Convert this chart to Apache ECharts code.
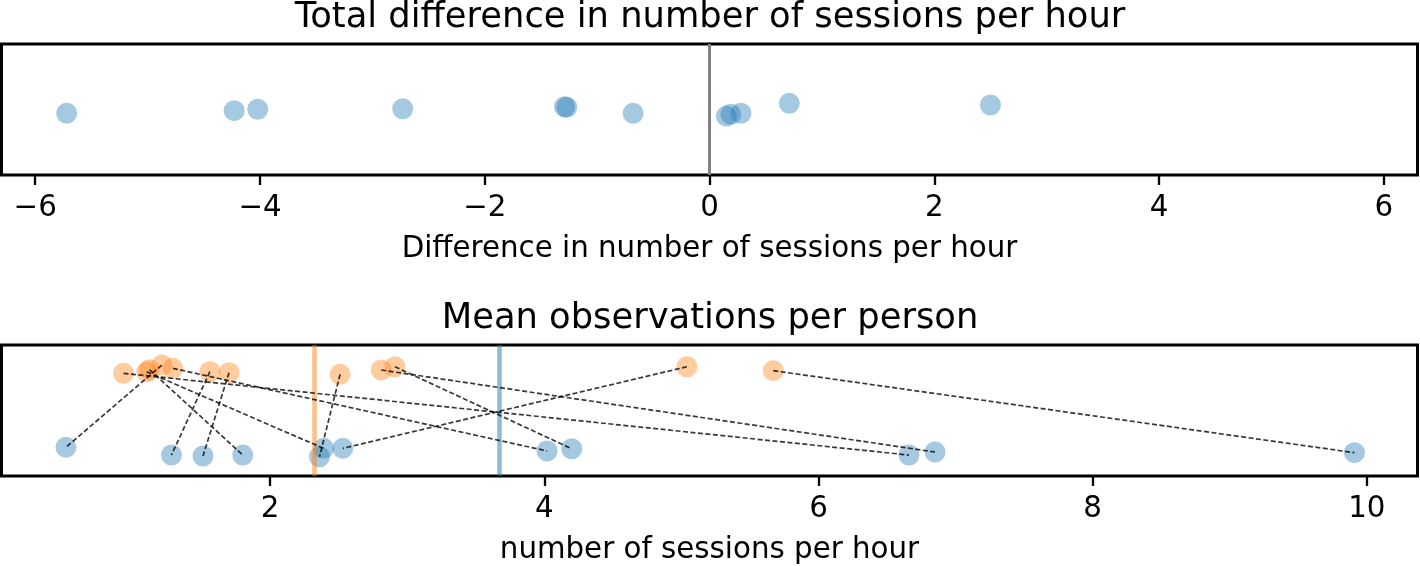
<!DOCTYPE html>
<html>
<head>
    <meta charset="utf-8">
    <title>Sessions per hour</title>
    <script src="https://cdn.jsdelivr.net/npm/echarts@6.0.0/dist/echarts.min.js"></script>
    <style>
        html, body { margin: 0; padding: 0; background: #fff; }
        #chart_div { width: 1420px; height: 566px; }
    </style>
</head>
<body>
    <div id="chart_div"></div>

    <script>
        // top panel: difference per person (after - before), with jitter position
        const diffValues = [-5.72, -4.23, -4.02, -2.73, -1.29, -1.27, -0.68, 0.15, 0.19, 0.28, 0.71, 2.50];
        const diffJitter = [0.471, 0.491, 0.502, 0.506, 0.521, 0.517, 0.471, 0.450, 0.463, 0.471, 0.547, 0.534];
        const diffTicks = [-6, -4, -2, 0, 2, 4, 6];

        // bottom panel: per person mean, orange and blue, same order = pairs
        const orangeValues = [0.93, 1.10, 1.12, 1.21, 1.29, 1.56, 1.70, 2.51, 2.81, 2.91, 5.04, 5.67];
        const orangeJitter = [0.784, 0.795, 0.812, 0.847, 0.822, 0.796, 0.789, 0.776, 0.809, 0.834, 0.834, 0.804];
        const blueValues = [6.66, 2.39, 1.80, 0.51, 4.02, 1.28, 1.51, 2.36, 6.85, 4.20, 2.53, 9.91];
        const blueJitter = [0.160, 0.211, 0.160, 0.219, 0.191, 0.160, 0.153, 0.147, 0.183, 0.208, 0.211, 0.178];
        const sessionTicks = [2, 4, 6, 8, 10];
        const meanOrange = 2.32;
        const meanBlue = 3.67;

        const FONT = 'DejaVu Sans';
        const BLUE = 'rgba(31,119,180,0.5)';
        const ORANGE = 'rgba(255,127,14,0.5)';

        const myChart = echarts.init(document.getElementById('chart_div'));

        function minusFmt(v) {
            return v < 0 ? '\u2212' + Math.abs(v) : String(v);
        }

        function xAxisCfg(idx, min, max, ticks, name) {
            return {
                type: 'value',
                gridIndex: idx,
                min: min,
                max: max,
                name: name,
                nameLocation: 'middle',
                nameGap: 60,
                nameTextStyle: { fontFamily: FONT, fontSize: 29.3, color: '#000' },
                splitLine: { show: false },
                axisLine: { show: false },
                axisTick: {
                    show: true,
                    customValues: ticks,
                    length: 10,
                    lineStyle: { color: '#000', width: 2.3 }
                },
                axisLabel: {
                    customValues: ticks,
                    margin: 19,
                    fontFamily: FONT,
                    fontSize: 29.3,
                    color: '#000',
                    formatter: minusFmt
                }
            };
        }

        function yAxisCfg(idx) {
            return {
                type: 'value', gridIndex: idx, min: 0, max: 1, show: false,
                splitLine: { show: false }
            };
        }

        const pairLines = orangeValues.map((v, i) => ({
            coords: [[v, orangeJitter[i]], [blueValues[i], blueJitter[i]]]
        }));

        const option = {
            animation: false,
            backgroundColor: '#fff',
            title: [
                {
                    text: 'Total difference in number of sessions per hour',
                    left: 'center', top: 0, padding: 0,
                    textStyle: { fontFamily: FONT, fontSize: 35.3, fontWeight: 'normal', color: '#000' }
                },
                {
                    text: 'Mean observations per person',
                    left: 'center', top: 301, padding: 0,
                    textStyle: { fontFamily: FONT, fontSize: 35.3, fontWeight: 'normal', color: '#000' }
                }
            ],
            grid: [
                { left: 1.5, width: 1416, top: 44, height: 131, show: true, borderColor: '#000', borderWidth: 3, backgroundColor: 'transparent' },
                { left: 1.5, width: 1416, top: 345, height: 131, show: true, borderColor: '#000', borderWidth: 3, backgroundColor: 'transparent' }
            ],
            xAxis: [
                xAxisCfg(0, -6.3, 6.3, diffTicks, 'Difference in number of sessions per hour'),
                xAxisCfg(1, 0.04, 10.37, sessionTicks, 'number of sessions per hour')
            ],
            yAxis: [yAxisCfg(0), yAxisCfg(1)],
            series: [
                {
                    type: 'scatter',
                    xAxisIndex: 0, yAxisIndex: 0,
                    symbolSize: 21,
                    itemStyle: { color: BLUE },
                    data: diffValues.map((v, i) => [v, diffJitter[i]]),
                    markLine: {
                        silent: true, symbol: 'none', label: { show: false },
                        lineStyle: { color: '#808080', width: 3, type: 'solid' },
                        data: [{ xAxis: 0 }]
                    },
                    z: 3
                },
                {
                    type: 'scatter',
                    xAxisIndex: 1, yAxisIndex: 1,
                    symbolSize: 21,
                    itemStyle: { color: ORANGE },
                    data: orangeValues.map((v, i) => [v, orangeJitter[i]]),
                    markLine: {
                        silent: true, symbol: 'none', label: { show: false },
                        lineStyle: { color: ORANGE, width: 4.5, type: 'solid', opacity: 1 },
                        data: [{ xAxis: meanOrange }]
                    },
                    z: 3
                },
                {
                    type: 'scatter',
                    xAxisIndex: 1, yAxisIndex: 1,
                    symbolSize: 21,
                    itemStyle: { color: BLUE },
                    data: blueValues.map((v, i) => [v, blueJitter[i]]),
                    markLine: {
                        silent: true, symbol: 'none', label: { show: false },
                        lineStyle: { color: BLUE, width: 4.5, type: 'solid', opacity: 1 },
                        data: [{ xAxis: meanBlue }]
                    },
                    z: 3
                },
                {
                    type: 'lines',
                    coordinateSystem: 'cartesian2d',
                    xAxisIndex: 1, yAxisIndex: 1,
                    silent: true,
                    lineStyle: { color: 'rgba(0,0,0,0.78)', width: 1.7, type: [5, 2.5], opacity: 1 },
                    data: pairLines,
                    z: 5
                }
            ]
        };

        myChart.setOption(option);
    </script>
</body>
</html>
